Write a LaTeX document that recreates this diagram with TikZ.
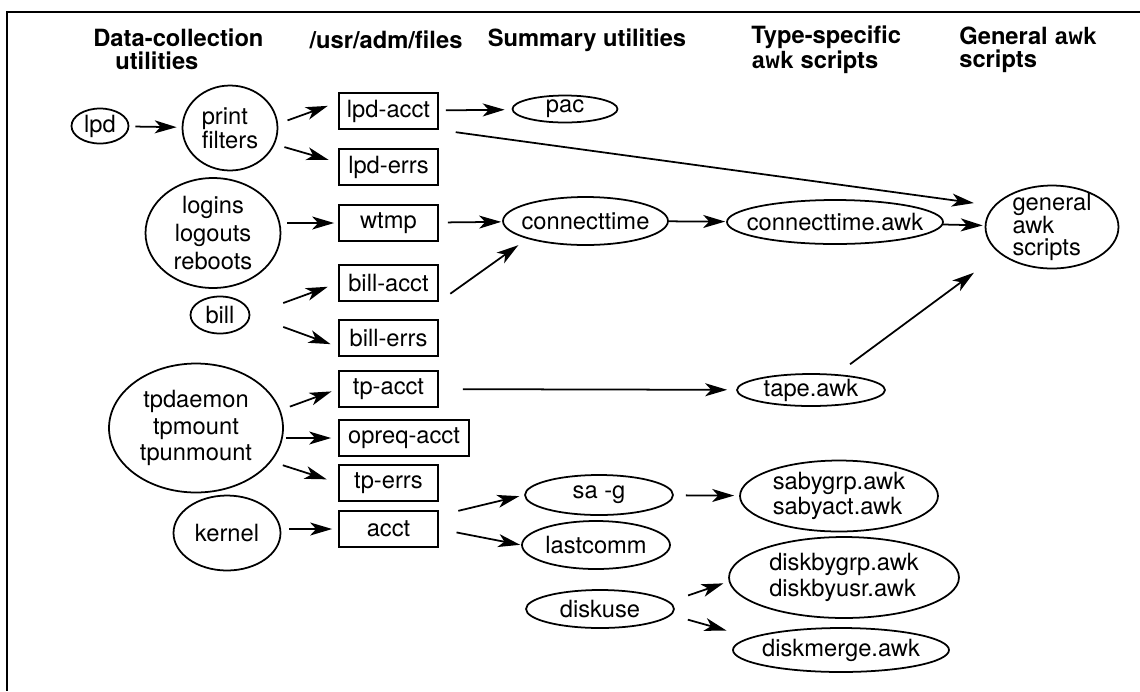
\documentclass[tikz,border=0pt]{standalone}
\usepackage{fontspec}
\setmainfont{TeX Gyre Heros}
\newfontfamily\awkfont{Liberation Mono}
\usepackage{tikz}
\usetikzlibrary{calc,arrows.meta,shapes.geometric}
\tikzset{
  frame/.style={draw=black, line width=1.3pt},
  head/.style={font=\fontsize{13.5}{13}\selectfont\bfseries, inner sep=0pt},
  lbl/.style={font=\fontsize{13.5}{15}\selectfont, inner sep=0pt},
  file/.style={draw=black, line width=1pt, rectangle, inner sep=0pt,
    minimum width=1.98cm, minimum height=0.72cm, font=\fontsize{13.5}{15}\selectfont},
  oval/.style n args={4}{draw=black, line width=1pt, ellipse, inner sep=0pt,
    minimum width=#1, minimum height=#2, label={[lbl,#3]center:#4}},
  flow/.style={draw=black, line width=1pt,
    -{Stealth[length=4.4mm, width=2.6mm, inset=1.2mm]}},
}

\begin{document}
\begin{tikzpicture}[x=0.02cm, y=-0.02cm]
  \useasboundingbox (0,0) rectangle (1140,691);
  \draw[frame] (1140,12) -- (7,12) -- (7,691);

  % column heads
  \node[head, anchor=west, align=left] (hcollect) at (93,49.5) {Data-collection\\\hspace*{0.44cm}utilities};
  \node[head] (hfiles) at (386,40) {/usr/adm/files};
  \node[head] (hsummary) at (587,40) {Summary utilities};
  \node[head, anchor=west, align=left] (htype) at (751,49.5) {Type-specific\\{\awkfont awk} scripts};
  \node[head, anchor=west, align=left] (hgeneral) at (959,50) {General {\awkfont awk}\\scripts};

  % data-collection utilities
  \node[oval={1.14cm}{0.70cm}{}{lpd}] (lpd) at (100,126) {};
  \node[oval={1.90cm}{1.70cm}{align=left, font=\fontsize{13.5}{12.5}\selectfont}{print\\filters}] (pf) at (230,128) {};
  \node[oval={2.70cm}{2.20cm}{align=center, font=\fontsize{13.5}{15.9}\selectfont}{logins\\logouts\\reboots}] (logins) at (213,233) {};
  \node[oval={1.18cm}{0.74cm}{}{bill}] (bill) at (220,315) {};
  \node[oval={3.48cm}{2.58cm}{align=center}{tpdaemon\\tpmount\\tpunmount}] (tpd) at (196,428) {};
  \node[oval={2.14cm}{1.50cm}{}{kernel}] (kernel) at (227,533) {};

  % /usr/adm files
  \node[file] (lpdacct) at (388.5,111) {lpd-acct};
  \node[file] (lpderrs) at (388.5,167) {lpd-errs};
  \node[file] (wtmp) at (388.5,223) {wtmp};
  \node[file] (billacct) at (388.5,283) {bill-acct};
  \node[file] (billerrs) at (388.5,338) {bill-errs};
  \node[file] (tpacct) at (388.5,389) {tp-acct};
  \node[file, minimum width=2.6cm] (opreq) at (404,438) {opreq-acct};
  \node[file] (tperrs) at (388.5,483) {tp-errs};
  \node[file] (acct) at (388.5,529) {acct};

  % summary utilities
  \node[oval={2.10cm}{0.54cm}{}{pac}] (pac) at (565,109) {};
  \node[oval={3.30cm}{0.96cm}{}{connecttime}] (ct) at (585.5,221) {};
  \node[oval={2.96cm}{0.80cm}{}{sa -g}] (sag) at (599,495) {};
  \node[oval={2.96cm}{0.96cm}{}{lastcomm}] (lastcomm) at (596,545) {};
  \node[oval={2.96cm}{0.76cm}{}{diskuse}] (diskuse) at (600,609) {};

  % awk scripts
  \node[oval={4.32cm}{0.88cm}{}{connecttime.awk}] (cta) at (835,222) {};
  \node[oval={2.96cm}{0.64cm}{}{tape.awk}] (tape) at (811,390) {};
  \node[oval={3.96cm}{1.42cm}{align=left, font=\fontsize{13.5}{14.7}\selectfont}{sabygrp.awk\\sabyact.awk}] (saby) at (839,496) {};
  \node[oval={4.60cm}{1.62cm}{align=left}{diskbygrp.awk\\diskbyusr.awk}] (dbg) at (844,577.5) {};
  \node[oval={4.32cm}{0.88cm}{}{diskmerge.awk}] (dm) at (841,650) {};
  \node[oval={2.66cm}{1.66cm}{align=left, font=\fontsize{13.5}{13}\selectfont}{general\\awk\\scripts}] (general) at (1052,227) {};

  % collection -> files
  \draw[flow, shorten <=0.12cm, shorten >=0.1cm] (lpd) -- (pf);
  \draw[flow, shorten <=0.2cm, shorten >=0.22cm] (pf.5) -- (lpdacct.170);
  \draw[flow, shorten <=0.2cm, shorten >=0.2cm] (pf.-20) -- (lpderrs.175);
  \draw[flow, shorten <=0.12cm, shorten >=0.08cm] (wtmp.west -| logins.east) -- (wtmp.west);
  \draw[flow, shorten <=0.7cm, shorten >=0.22cm] (bill.east) -- (billacct.west);
  \draw[flow, shorten <=0.7cm, shorten >=0.16cm] (bill.east) -- (billerrs.190);
  \draw[flow, shorten <=0.2cm, shorten >=0.14cm] (tpd.12) -- (tpacct.west);
  \draw[flow, shorten <=0.04cm, shorten >=0.14cm] (opreq.west -| tpd.east) -- (opreq.west);
  \draw[flow, shorten <=0.24cm, shorten >=0.24cm] (tpd.-24) -- (tperrs.west);
  \draw[flow, shorten <=0.16cm, shorten >=0.12cm] (acct.west -| kernel.east) -- (acct.west);

  % files -> summaries
  \draw[flow, shorten <=0.14cm, shorten >=0.14cm] (lpdacct) -- (pac);
  \draw[flow, shorten <=0.34cm, shorten >=0.4cm] (lpdacct.south east) -- (general.160);
  \draw[flow, shorten <=0.18cm, shorten >=0.02cm] (wtmp) -- (ct);
  \draw[flow, shorten <=0.28cm, shorten >=0.22cm] (billacct.south east) -- (ct.197);
  \draw[flow, shorten <=0.48cm, shorten >=0.18cm] (tpacct) -- (tape);
  \draw[flow, shorten <=0.4cm, shorten >=0.1cm] (acct.15) -- (sag.west);
  \draw[flow, shorten <=0.36cm, shorten >=0.02cm] (acct.east) -- (lastcomm.west);

  % summaries -> awk scripts
  \draw[flow, shorten >=0.02cm] (ct) -- (cta);
  \draw[flow, shorten >=0.04cm] (cta) -- (general);
  \draw[flow, shorten <=0.3cm, shorten >=0.64cm] ($(tape.north)+(27,0)$) -- (general.207);
  \draw[flow, shorten <=0.24cm, shorten >=0.1cm] (sag) -- (saby);
  \draw[flow, shorten <=0.28cm, shorten >=0.11cm] ($(diskuse.east)+(0,-9)$) -- (dbg.182);
  \draw[flow, shorten <=0.27cm, shorten >=0.5cm] ($(diskuse.east)+(0,7)$) -- (dm.172);
\end{tikzpicture}
\end{document}
